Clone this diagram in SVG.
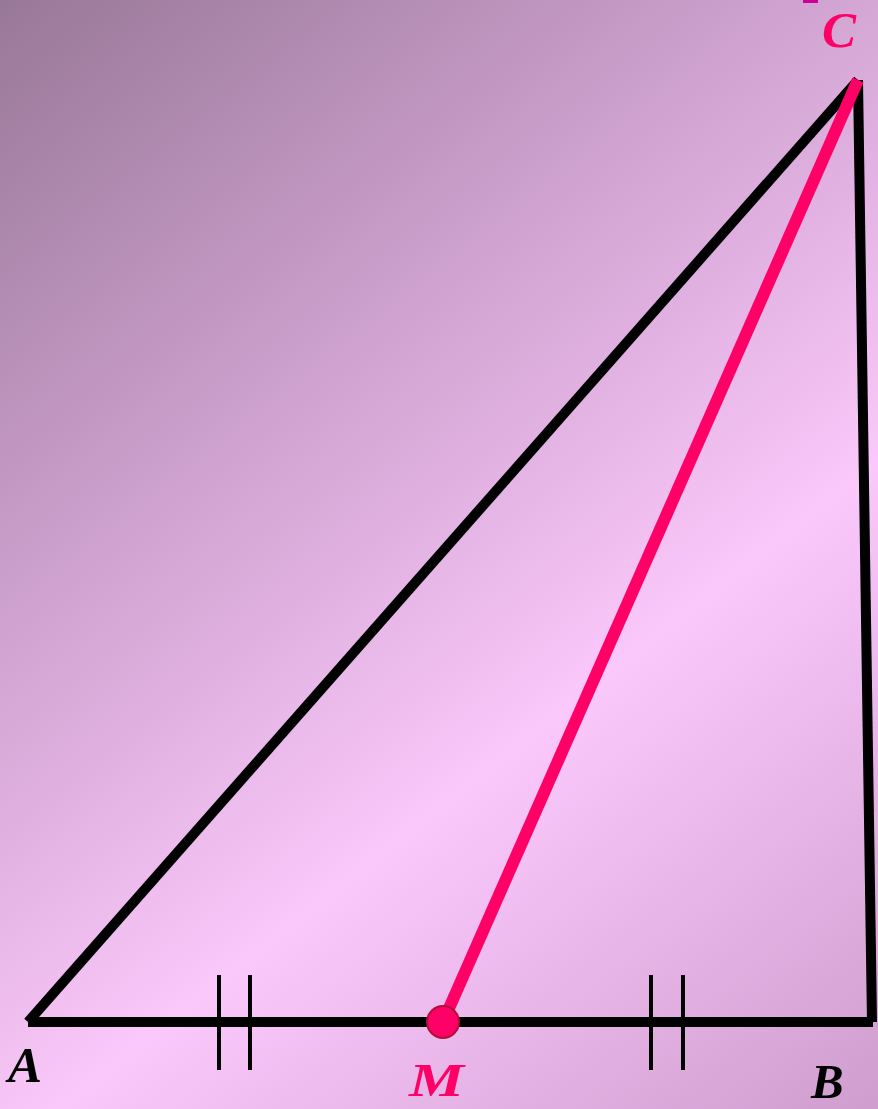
<svg xmlns="http://www.w3.org/2000/svg" width="878" height="1109" viewBox="0 0 878 1109">
<defs>
<linearGradient id="bg" x1="0" y1="0" x2="878" y2="1109" gradientUnits="userSpaceOnUse">
<stop offset="0" stop-color="#987898"/>
<stop offset="0.35" stop-color="#cfa2cf"/>
<stop offset="0.64" stop-color="#fac8fa"/>
<stop offset="1" stop-color="#cf9ecf"/>
</linearGradient>
<style>
.side{stroke:#000;stroke-width:10;fill:none;stroke-linecap:butt}
.tick{stroke:#000;stroke-width:4}
.median{stroke:#ff0066;stroke-width:12;stroke-linecap:butt}
.lbl{font-family:"Liberation Serif",serif;font-weight:bold;font-style:italic;font-size:51px}
</style>
</defs>
<rect width="878" height="1109" fill="url(#bg)"/>
<rect x="803" y="0" width="15" height="3" fill="#cc0099"/>
<g id="connectors">
<line class="side" x1="28" y1="1022" x2="873" y2="1022"/>
<line class="side" x1="28" y1="1022" x2="858" y2="80"/>
<line class="side" x1="858" y1="80" x2="872" y2="1022"/>
<line class="median" x1="443" y1="1022" x2="858" y2="80"/>
<line class="tick" x1="219" y1="975" x2="219" y2="1070"/>
<line class="tick" x1="250" y1="975" x2="250" y2="1070"/>
<line class="tick" x1="651" y1="975" x2="651" y2="1070"/>
<line class="tick" x1="683" y1="975" x2="683" y2="1070"/>
</g>
<g id="A"><text class="lbl" x="8" y="1082" fill="#000">A</text></g>
<g id="B"><text class="lbl" x="811" y="1098" fill="#000" style="font-size:49px">B</text></g>
<g id="C"><text class="lbl" x="822" y="47" fill="#ff0066">C</text></g>
<g id="M">
<circle cx="443" cy="1022" r="16" fill="#ff0066" stroke="#b0103a" stroke-width="2"/>
<text class="lbl" x="409" y="1096" fill="#ff0066" style="font-size:46px" textLength="55" lengthAdjust="spacingAndGlyphs">M</text>
</g>
</svg>
